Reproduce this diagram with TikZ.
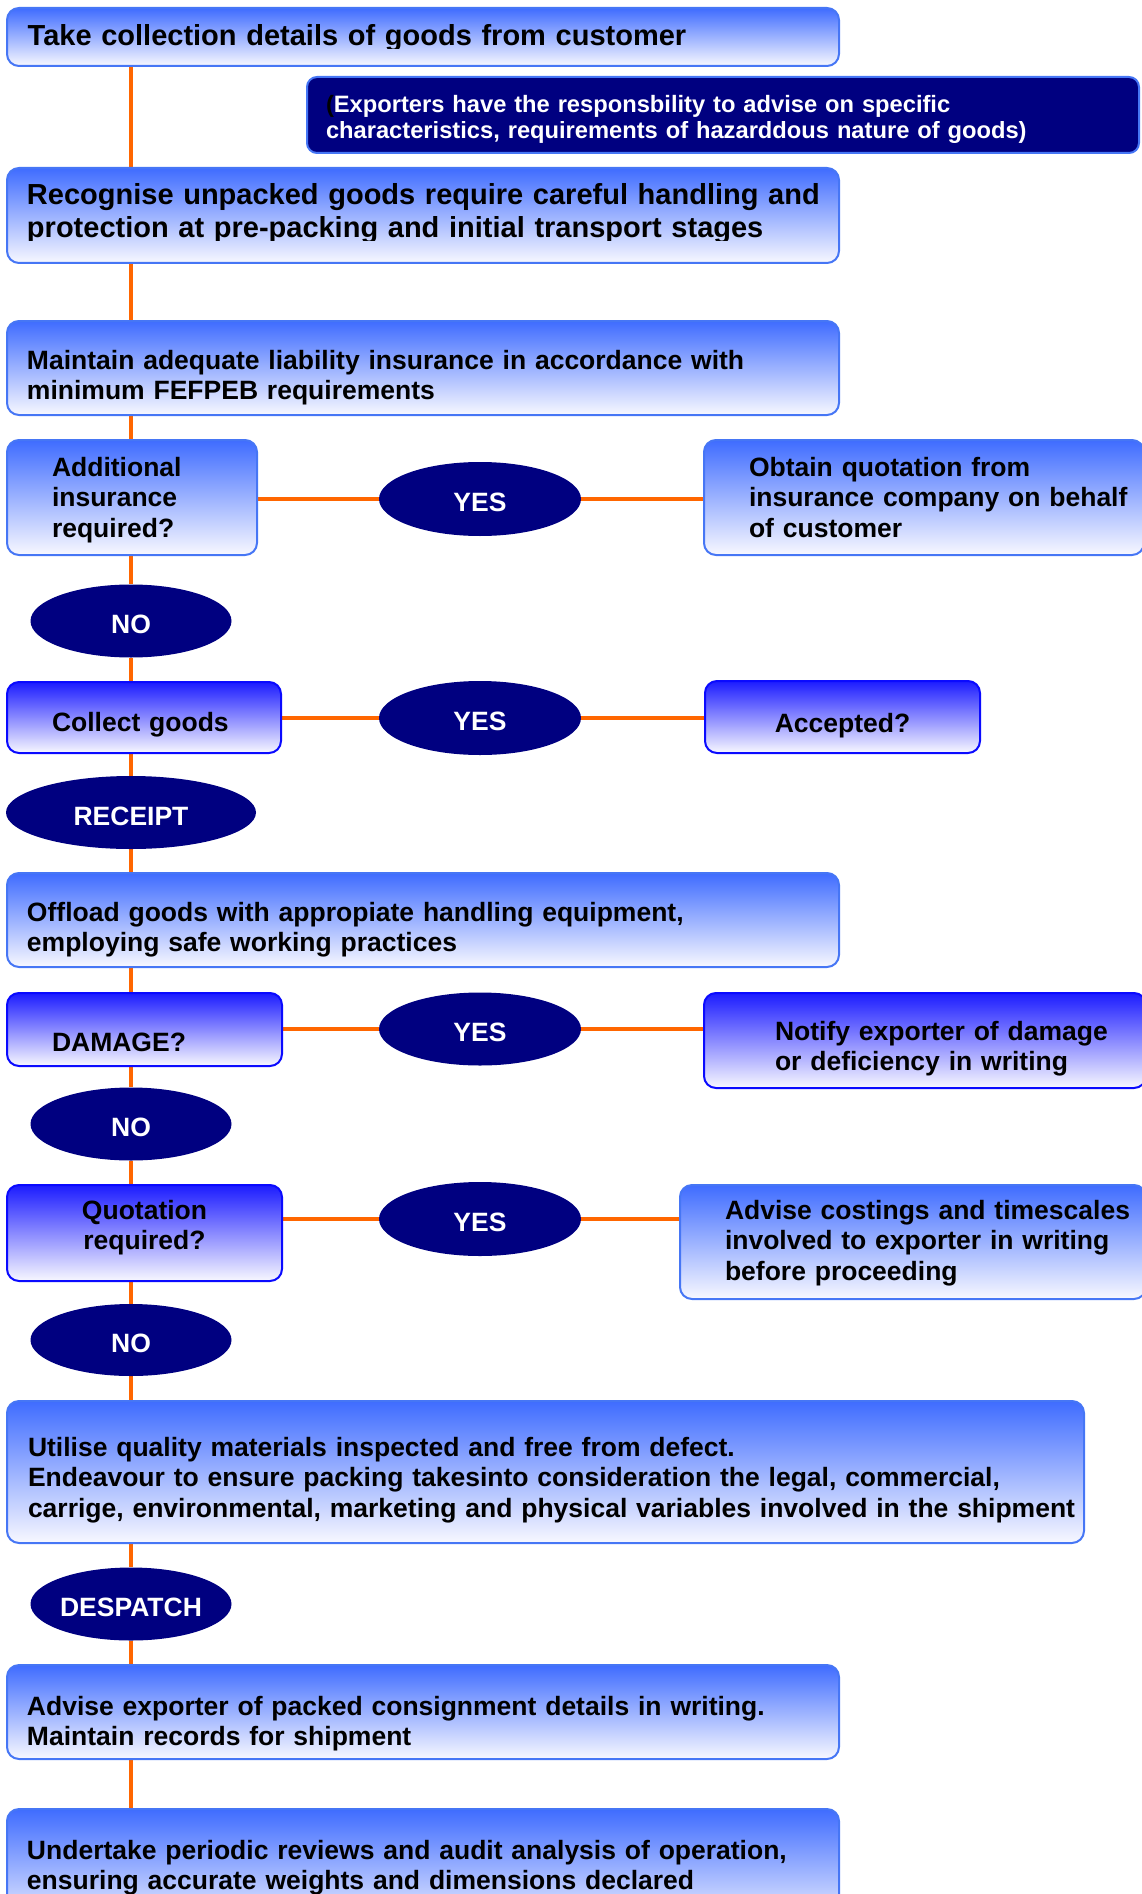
\documentclass[tikz,border=0pt]{standalone}
\usepackage{fontspec}
\setmainfont{Liberation Sans}
\usepackage{trimclip}
\usetikzlibrary{shapes.geometric,backgrounds}

\definecolor{boxtop}{RGB}{63,108,255}
\definecolor{boxline}{RGB}{70,118,245}
\definecolor{deeptop}{RGB}{28,28,255}
\definecolor{deepline}{RGB}{10,10,255}
\definecolor{boxbottom}{RGB}{248,248,255}
\definecolor{navyfill}{RGB}{0,0,128}
\definecolor{linkorange}{RGB}{255,102,0}

\newcommand{\bigtxt}{\bfseries\fontsize{29}{32.5}\selectfont}
\newcommand{\midtxt}{\bfseries\fontsize{26.5}{30.5}\selectfont}
\newcommand{\notetxt}{\bfseries\fontsize{23.7}{26}\selectfont}

\begin{document}
\begin{tikzpicture}[x=1pt,y=-1pt,
    stage/.style={draw=boxline,line width=2pt,rounded corners=12pt,
      top color=boxtop,bottom color=boxbottom,anchor=north west,
      align=left,inner sep=0pt,font=\midtxt},
    checkbox/.style={stage,draw=deepline,top color=deeptop},
    remark/.style={draw=boxline,line width=2pt,rounded corners=10pt,fill=navyfill,
      text=white,anchor=north west,align=left,inner sep=0pt,font=\notetxt},
    answer/.style={ellipse,fill=navyfill,text=white,inner sep=0pt,
      text height=25pt,text depth=0pt,
      minimum width=202pt,minimum height=74pt,font=\midtxt},
    boxsize/.style n args={3}{text width=#1pt,text height=#2pt,text depth=#3pt},
    textindent/.style={execute at begin node={\leftskip=#1pt\rightskip=-40pt plus 1fil}},
    link/.style={draw=linkorange,line width=3.4pt}]

  \useasboundingbox (0,0) rectangle (1141,1894);

  \node[stage,font=\bigtxt,boxsize={832}{38}{20},textindent=20.7] (take) at (6,7)
    {\clipbox{0pt 3.5pt 0pt 0pt}{Take collection details of goods from customer}};
  \node[remark,boxsize={832}{36}{40},textindent=19] (duty) at (306,76)
    {{\color{black}(}Exporters have the responsbility to advise on specific\\
     \clipbox{0pt 2pt 0pt 0pt}{characteristics, requirements of hazarddous nature of goods)}};
  \node[stage,font=\bigtxt,boxsize={832}{37}{58},textindent=20] (recog) at (6,167)
    {Recognise unpacked goods require careful handling and\\
     \clipbox{0pt 3.5pt 0pt 0pt}{protection at pre-packing and initial transport stages}};
  \node[stage,boxsize={832}{48}{46},textindent=20] (insure) at (6,320)
    {Maintain adequate liability insurance in accordance with\\minimum FEFPEB requirements};

  \node[stage,boxsize={250}{36}{79},textindent=45] (addq) at (6,439)
    {Additional\\insurance\\required?};
  \node[answer] (yes1) at (480,499) {YES};
  \node[stage,boxsize={440}{36}{79},textindent=45] (obtain) at (703,439)
    {Obtain quotation from\\insurance company on behalf\\of customer};
  \node[answer,minimum width=201pt,minimum height=73pt] (no1) at (131,621) {NO};

  \node[checkbox,boxsize={274}{49}{22},textindent=45] (collect) at (6,681) {Collect goods};
  \node[answer] (yes2) at (480,718) {YES};
  \node[checkbox,boxsize={275}{51}{21},align=center] (accepted) at (704,680) {Accepted?};
  \node[answer,minimum width=250pt,minimum height=73pt] (receipt) at (131,812.5) {RECEIPT};

  \node[stage,boxsize={832}{48}{46},textindent=20] (offload) at (6,872)
    {Offload goods with appropiate handling equipment,\\employing safe working practices};

  \node[checkbox,boxsize={275}{58}{15},textindent=45] (damage) at (6,992) {DAMAGE?};
  \node[answer,minimum height=73pt] (yes3) at (480,1029) {YES};
  \node[checkbox,boxsize={442}{47}{48},textindent=71] (notify) at (703,992)
    {Notify exporter of damage\\or deficiency in writing};
  \node[answer,minimum width=201pt,minimum height=73pt] (no2) at (131,1124) {NO};

  \node[checkbox,boxsize={275}{34}{62},align=center] (quote) at (6,1184) {Quotation\\required?};
  \node[answer] (yes4) at (480,1219) {YES};
  \node[stage,boxsize={466}{34}{80},textindent=45] (costs) at (679,1184)
    {Advise costings and timescales\\involved to exporter in writing\\before proceeding};
  \node[answer,minimum width=201pt,minimum height=72pt] (no3) at (131,1340) {NO};

  \node[stage,boxsize={1077}{55}{87},textindent=21] (utilise) at (6,1400)
    {Utilise quality materials inspected and free from defect.\\
     Endeavour to ensure packing takesinto consideration the legal, commercial,\\
     carrige, environmental, marketing and physical variables involved in the shipment};
  \node[answer,minimum width=201pt,minimum height=73pt] (despatch) at (131,1604) {DESPATCH};

  \node[stage,boxsize={832}{50}{44},textindent=20] (packed) at (6,1664)
    {Advise exporter of packed consignment details in writing.\\Maintain records for shipment};
  \node[stage,boxsize={832}{50}{72},textindent=20] (review) at (6,1808)
    {Undertake periodic reviews and audit analysis of operation,\\ensuring accurate weights and dimensions declared};

  \begin{scope}[on background layer]
    \coordinate (spine) at (131,0);
    \foreach \a/\b in {take/recog,recog/insure,insure/addq,addq/no1,no1/collect,
        collect/receipt,receipt/offload,offload/damage,damage/no2,no2/quote,
        quote/no3,no3/utilise,utilise/despatch,despatch/packed,packed/review}
      \draw[link] (\a.south -| spine) -- (\b.north -| spine);
    \foreach \l/\m/\r in {addq/yes1/obtain,collect/yes2/accepted,
        damage/yes3/notify,quote/yes4/costs}
      \draw[link] (\m.west -| \l.east) -- (\m.west) (\m.east) -- (\m.east -| \r.west);
  \end{scope}
\end{tikzpicture}
\end{document}
